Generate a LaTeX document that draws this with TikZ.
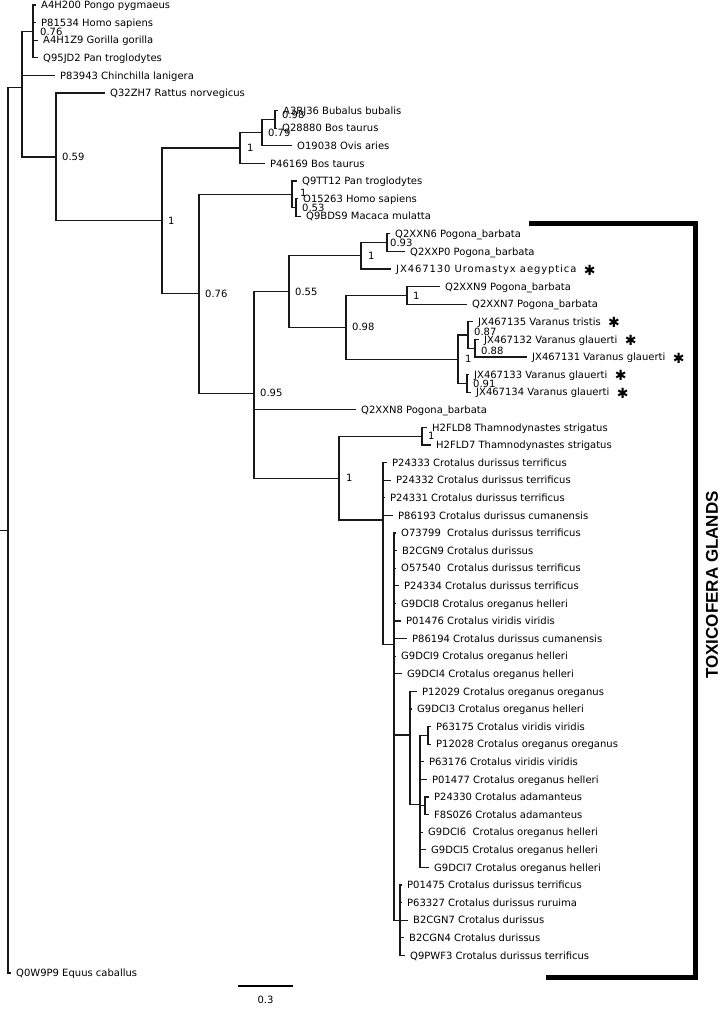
\documentclass[tikz,border=0pt]{standalone}
\usepackage{fontspec}
\setmainfont{DejaVu Sans}
\newfontfamily\bracketfont{Liberation Sans}
\usetikzlibrary{arrows.meta,calc,positioning}

\begin{document}
\begin{tikzpicture}[x=1pt,y=-1pt,
    branch/.style={line width=1.2pt,black!90},
    leaf/.style={anchor=west,inner xsep=5pt,inner ysep=0pt,
                 text height=7.3pt,text depth=0pt,font=\fontsize{10}{12}\selectfont},
    supp/.style={anchor=west,inner sep=0pt,text height=7.3pt,text depth=0pt,
                 font=\fontsize{10}{12}\selectfont},
    ast/.style={anchor=west,inner xsep=2pt,inner ysep=0pt,font=\fontsize{14}{14}\selectfont}]
  \useasboundingbox (0,0) rectangle (720,1014);
  \def\dy{17.6}         % paso entre hojas
  \def\yo{5}            % y de la primera hoja

  % --- hojas
  \foreach \i/\tx/\txt in {
      0/36/A4H200 Pongo pygmaeus, 1/36/P81534 Homo sapiens,
      2/38/A4H1Z9 Gorilla gorilla, 3/38/Q95JD2 Pan troglodytes,
      4/55/P83943 Chinchilla lanigera, 5/105/Q32ZH7 Rattus norvegicus,
      6/278/A3RJ36 Bubalus bubalis, 7/277/Q28880 Bos taurus,
      8/292/O19038 Ovis aries, 9/265/P46169 Bos taurus,
      10/297/Q9TT12 Pan troglodytes, 11/298/O15263 Homo sapiens,
      12/301/Q9BDS9 Macaca mulatta, 13/390/Q2XXN6 Pogona\_barbata,
      14/405/Q2XXP0 Pogona\_barbata,
      15/391/{\addfontfeature{LetterSpace=9}JX467130 Uromastyx aegyptica},
      16/440/Q2XXN9 Pogona\_barbata, 17/467/Q2XXN7 Pogona\_barbata,
      18/473/JX467135 Varanus tristis, 19/479/JX467132 Varanus glauerti,
      20/527/JX467131 Varanus glauerti, 21/469/JX467133 Varanus glauerti,
      22/471/JX467134 Varanus glauerti, 23/356/Q2XXN8 Pogona\_barbata,
      24/427/H2FLD8 Thamnodynastes strigatus, 25/431/H2FLD7 Thamnodynastes strigatus,
      26/387/P24333 Crotalus durissus terrificus, 27/391/P24332 Crotalus durissus terrificus,
      28/385/P24331 Crotalus durissus terrificus, 29/393/P86193 Crotalus durissus cumanensis,
      30/396/O73799~~Crotalus durissus terrificus, 31/397/B2CGN9 Crotalus durissus,
      32/396/O57540~~Crotalus durissus terrificus, 33/399/P24334 Crotalus durissus terrificus,
      34/396/G9DCI8 Crotalus oreganus helleri, 35/401/P01476 Crotalus viridis viridis,
      36/407/P86194 Crotalus durissus cumanensis, 37/396/G9DCI9 Crotalus oreganus helleri,
      38/402/G9DCI4 Crotalus oreganus helleri, 39/417/P12029 Crotalus oreganus oreganus,
      40/412/G9DCI3 Crotalus oreganus helleri, 41/431/P63175 Crotalus viridis viridis,
      42/431/P12028 Crotalus oreganus oreganus, 43/424/P63176 Crotalus viridis viridis,
      44/427/P01477 Crotalus oreganus helleri, 45/429/P24330 Crotalus adamanteus,
      46/429/F8S0Z6 Crotalus adamanteus, 47/423/G9DCI6~~Crotalus oreganus helleri,
      48/426/G9DCI5 Crotalus oreganus helleri, 49/429/G9DCI7 Crotalus oreganus helleri,
      50/402/P01475 Crotalus durissus terrificus, 51/402/P63327 Crotalus durissus ruruima,
      52/408/B2CGN7 Crotalus durissus, 53/404/B2CGN4 Crotalus durissus,
      54/405/Q9PWF3 Crotalus durissus terrificus, 55/11/Q0W9P9 Equus caballus}
    \node[leaf] (l\i) at (\tx,{\yo+\dy*\i}) {\txt};

  % --- nodos internos
  \coordinate (root)  at (8,530.45);
  \coordinate (base)  at (0,530.45);
  \coordinate (mamm)  at (22,87.9);
  \coordinate (prim)  at (33,31.4);
  \coordinate (rod)   at (56,156.9);
  \coordinate (cA)    at (162,220.85);
  \coordinate (bov)   at (240,148);
  \coordinate (bovB)  at (262,132.6);
  \coordinate (bovC)  at (275,119.4);
  \coordinate (cD)    at (199,293.7);
  \coordinate (hom)   at (292,194.2);
  \coordinate (homB)  at (296,207.4);
  \coordinate (cJ)    at (254,393.15);
  \coordinate (cK)    at (289,291.55);
  \coordinate (agam)  at (361,255.8);
  \coordinate (pog)   at (387,242.6);
  \coordinate (cN)    at (346,327.3);
  \coordinate (pogB)  at (407,295.4);
  \coordinate (var)   at (458,359.2);
  \coordinate (varA)  at (468,335);
  \coordinate (varB)  at (475,348.2);
  \coordinate (varC)  at (467,383.4);
  \coordinate (snk)   at (339,478.1);
  \coordinate (tham)  at (422,436.2);
  \coordinate (crot)  at (383,520);
  \coordinate (crotB) at (394,644.2);
  \coordinate (crotC) at (410,735);
  \coordinate (crotD) at (420,804.5);
  \coordinate (crotE) at (428,735.4);
  \coordinate (crotF) at (425,805.8);
  \coordinate (crotG) at (400,920.2);

  % --- ramas
  \draw[branch] (base) -- (root);
  \foreach \p/\c in {root/mamm, root/l55.west,
      mamm/prim, mamm/l4.west, mamm/rod,
      prim/l0.west, prim/l1.west, prim/l2.west, prim/l3.west,
      rod/l5.west, rod/cA, cA/bov, cA/cD,
      bov/bovB, bov/l9.west, bovB/bovC, bovB/l8.west, bovC/l6.west, bovC/l7.west,
      cD/hom, cD/cJ, hom/l10.west, hom/homB, homB/l11.west, homB/l12.west,
      cJ/cK, cJ/l23.west, cJ/snk, cK/agam, cK/cN,
      agam/pog, agam/l15.west, pog/l13.west, pog/l14.west,
      cN/pogB, cN/var, pogB/l16.west, pogB/l17.west,
      var/varA, var/varC, varA/l18.west, varA/varB, varB/l19.west, varB/l20.west,
      varC/l21.west, varC/l22.west,
      snk/tham, snk/crot, tham/l24.west, tham/l25.west,
      crot/l26.west, crot/l27.west, crot/l28.west, crot/l29.west, crot/crotB,
      crotB/l30.west, crotB/l31.west, crotB/l32.west, crotB/l33.west, crotB/l34.west,
      crotB/l35.west, crotB/l36.west, crotB/l37.west, crotB/l38.west,
      crotB/crotC, crotB/crotG,
      crotC/l39.west, crotC/l40.west, crotC/crotD,
      crotD/crotE, crotD/l43.west, crotD/l44.west, crotD/crotF,
      crotD/l47.west, crotD/l48.west, crotD/l49.west,
      crotE/l41.west, crotE/l42.west, crotF/l45.west, crotF/l46.west,
      crotG/l50.west, crotG/l51.west, crotG/l52.west, crotG/l53.west, crotG/l54.west}
    \draw[branch] (\p) |- (\c);

  % --- soportes
  \foreach \x/\y/\v [count=\k] in {40/31.4/0.76, 62/156.9/0.59, 168/220.85/1,
      247/148/1, 268/132.6/0.79, 282/115/0.98, 205/293.7/0.76, 300/193/1,
      302/207.4/0.53, 260/393.15/0.95, 295/291.55/0.55, 368/255.8/1,
      390/242.6/0.93, 352/327.3/0.98, 413/295.4/1, 465/359.2/1, 474/332/0.87,
      481/351/0.88, 473/383.4/0.91, 346/478.1/1, 428/436.2/1}
    \node[supp] (s\k) at (\x,\y) {\v};

  % --- marcas de glandula
  \foreach \i in {15,18,19,20,21,22}
    \node[ast] (a\i) at ([yshift=-1pt]l\i.east) {✱};

  % --- barra de escala
  \coordinate (sbL) at (238,986);
  \coordinate (sbR) at (293,986);
  \draw[line width=1.2pt] (sbL) -- (sbR);
  \node[font=\fontsize{10}{12}\selectfont,below=7pt] (sbT) at ($(sbL)!0.5!(sbR)$) {0.3};

  % --- corchete
  \coordinate (brT) at (529,223);
  \coordinate (brC) at (695.5,223);
  \coordinate (brB) at (546,977);
  \draw[line width=5pt] (brT) -- (brC) |- (brB);
  \node[rotate=90,font=\bracketfont\bfseries\fontsize{17}{17}\selectfont] (glands)
       at (712,585) {TOXICOFERA GLANDS};
\end{tikzpicture}
\end{document}
